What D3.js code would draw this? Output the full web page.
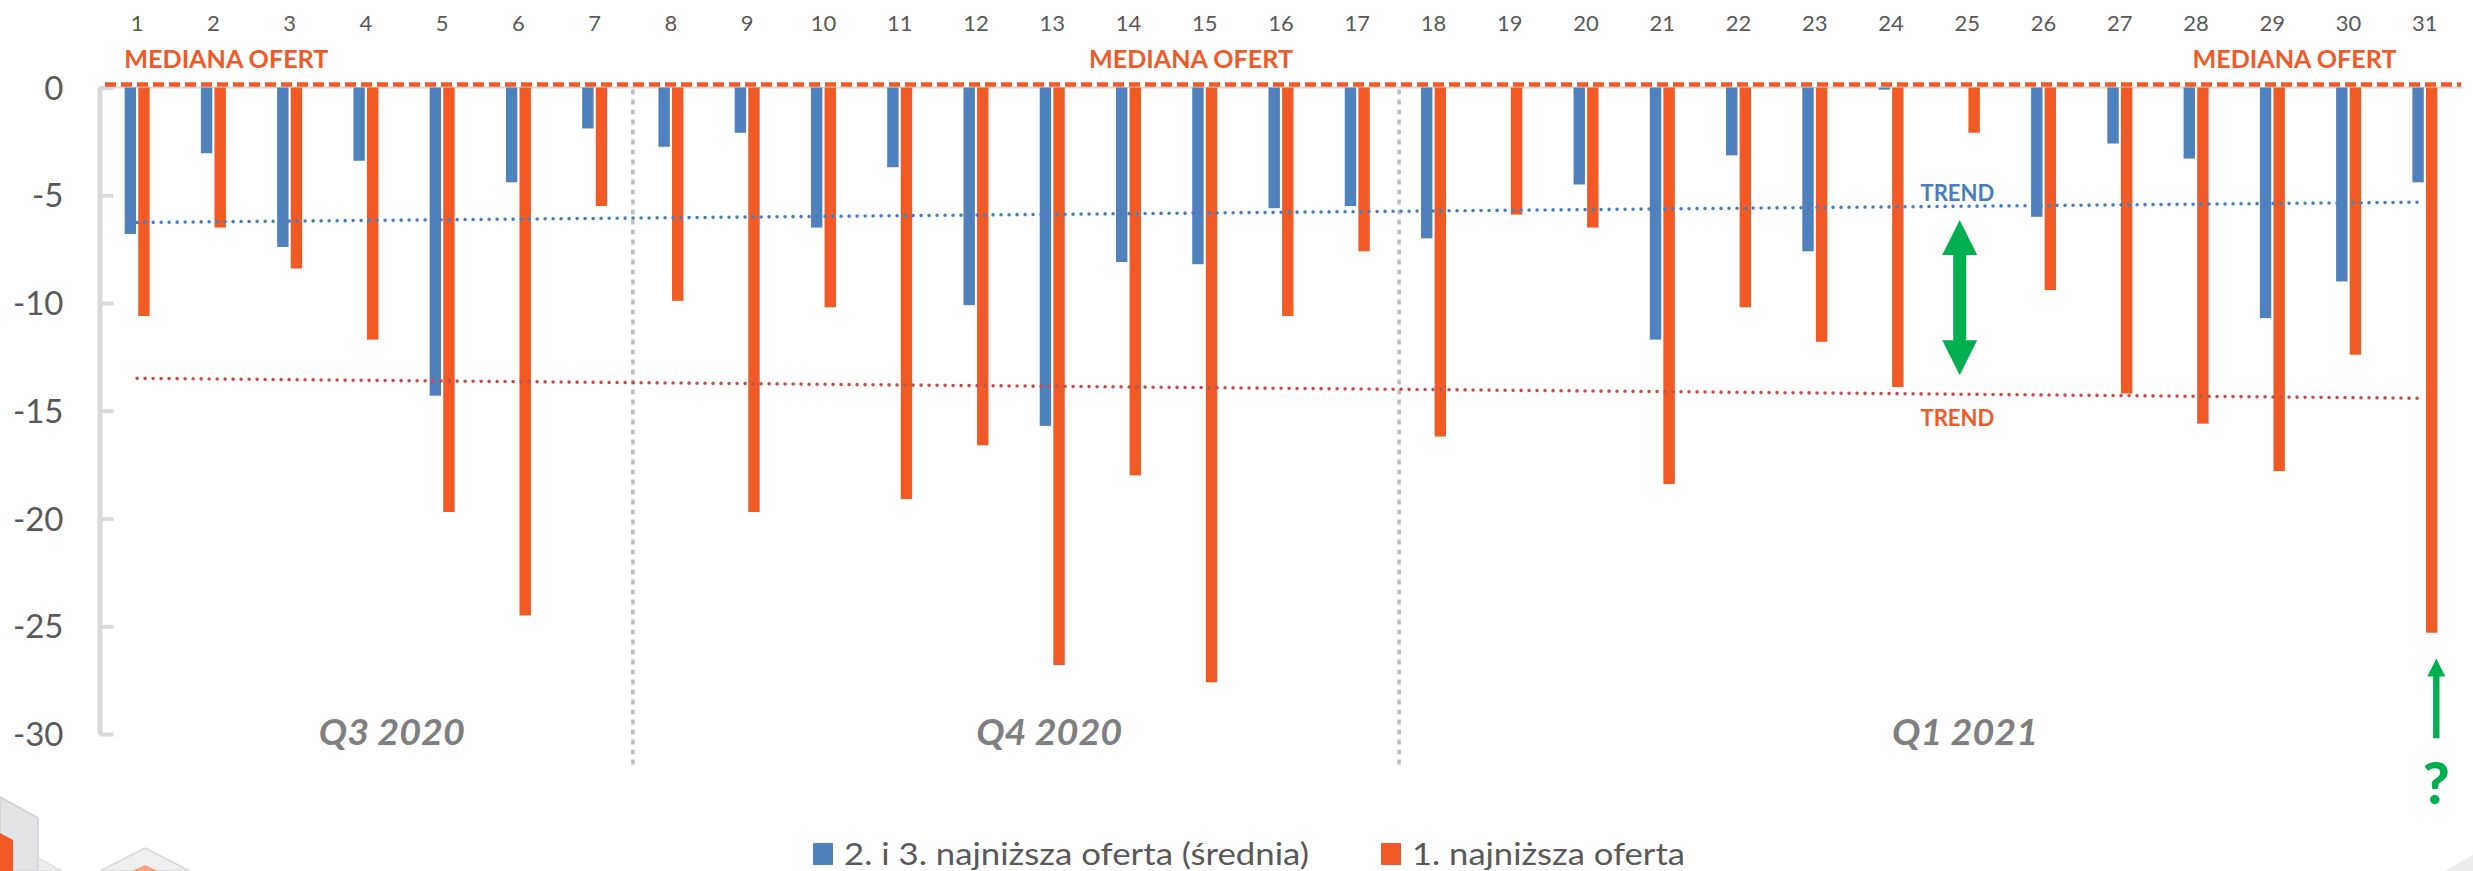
<!DOCTYPE html>
<html><head><meta charset="utf-8">
<script src="https://cdn.jsdelivr.net/npm/d3@7"></script>
<style>
body{margin:0;background:#fff}
svg{display:block}
text{font-family:Lato,'Open Sans',sans-serif}
</style>
</head><body>
<svg id="chart" width="2473" height="871"></svg>
<script>
// ---------- DATA ----------
const categories = [1,2,3,4,5,6,7,8,9,10,11,12,13,14,15,16,17,18,19,20,21,22,23,24,25,26,27,28,29,30,31];
const seriesNames = ["2. i 3. najniższa oferta (średnia)", "1. najniższa oferta"];
const blueValues = [-6.8,-3.05,-7.4,-3.4,-14.3,-4.4,-1.9,-2.75,-2.1,-6.5,-3.7,-10.1,-15.7,-8.1,-8.2,-5.6,-5.5,-7.0,0,-4.5,-11.7,-3.15,-7.6,-0.1,0,-6.0,-2.6,-3.3,-10.7,-9.0,-4.4];
const orangeValues = [-10.6,-6.5,-8.4,-11.7,-19.7,-24.5,-5.5,-9.9,-19.7,-10.2,-19.1,-16.6,-26.8,-18.0,-27.6,-10.6,-7.6,-16.2,-5.9,-6.5,-18.4,-10.2,-11.8,-13.9,-2.1,-9.4,-14.2,-15.6,-17.8,-12.4,-25.3];
const yTicks = [0,-5,-10,-15,-20,-25,-30];
const yTickLabels = ["0","-5","-10","-15","-20","-25","-30"];
const quarterLabels = ["Q3 2020","Q4 2020","Q1 2021"];
const quarterPos = [4.34, 12.96, 24.97];      // in category units
const separatorPos = [7.5, 17.55];            // in category units
const medianLabel = "MEDIANA OFERT";
const medianLabelPos = [2.17, 14.82, 29.29];  // in category units
const trendLabel = "TREND";

// ---------- SETUP ----------
const W = 2473, H = 871;
const svg = d3.select("#chart");
svg.append("rect").attr("width",W).attr("height",H).attr("fill","#fff");

const colors = ["#4f81bd", "#f15a24"];
const trendColors = ["#4a7dbd", "#c0504d"];

const x = d3.scaleBand().domain(categories).range([99, 2463]).paddingInner(0).paddingOuter(0);
const bw = x.bandwidth();
const xc = d3.scaleLinear().domain([1,31]).range([x(1)+bw/2, x(31)+bw/2]);
const xSub = d3.scaleBand().domain([0,1]).range([-12.5,12.5]).paddingInner(0.16);
const y = d3.scaleLinear().domain([-30,0]).range([734,87.5]);

// ---------- LOGO (decorative, bottom-left) ----------
const logo = svg.append("g");
logo.append("polygon").attr("points","0,797 38,818 38,871 0,871").attr("fill","#e4e4e6").attr("stroke","#cfcfd2").attr("stroke-width",1.5);
logo.append("polygon").attr("points","0,833 13,840 13,871 0,871").attr("fill","#f15a24");
logo.append("polygon").attr("points","38,858 62,871 38,871").attr("fill","#ededee").attr("stroke","#d5d5d7");
logo.append("polygon").attr("points","145,848 190,871 100,871").attr("fill","#efeff0").attr("stroke","#d8d8da").attr("stroke-width",1.5);
logo.append("polygon").attr("points","145,865 158,871 132,871").attr("fill","#f6a27e");
svg.append("polygon").attr("points","2473,855 2473,871 2445,871").attr("fill","#ececed");

// ---------- AXIS ----------
const axis = d3.axisLeft(y).tickValues(yTicks).tickSize(-14).tickSizeOuter(0).tickPadding(36)
  .tickFormat(d => yTickLabels[yTicks.indexOf(d)]);
const gAxis = svg.append("g").attr("transform","translate(99.5,0)").call(axis);
gAxis.select(".domain").attr("stroke","#d9d9d9").attr("stroke-width",5);
gAxis.selectAll(".tick line").attr("stroke","#d9d9d9").attr("stroke-width",4);
gAxis.selectAll(".tick text").attr("fill","#595959").attr("font-size",33).attr("font-family","Lato").attr("dy","0.35em");

// zero baseline
svg.append("line").attr("x1",99).attr("x2",2463).attr("y1",y(0)).attr("y2",y(0))
  .attr("stroke","#d9d9d9").attr("stroke-width",2);

// quarter separators
svg.selectAll("line.sep").data(separatorPos).join("line").attr("class","sep")
  .attr("x1",d=>xc(d)).attr("x2",d=>xc(d)).attr("y1",y(0)+2).attr("y2",767)
  .attr("stroke","#bfbfbf").attr("stroke-width",3.5).attr("stroke-dasharray","5 5");

// category labels on top
svg.selectAll("text.cat").data(categories).join("text").attr("class","cat")
  .attr("x",d=>x(d)+bw/2).attr("y",31).attr("text-anchor","middle")
  .attr("font-size",22).attr("fill","#595959").text(d=>d);

// ---------- BARS ----------
const seriesData = [blueValues, orangeValues];
seriesData.forEach((vals, si) => {
  svg.append("g").selectAll("rect").data(vals.map((v,i)=>({c:categories[i], v})))
    .join("rect")
    .attr("x", d => x(d.c) + bw/2 + xSub(si))
    .attr("width", xSub.bandwidth())
    .attr("y", d => y(Math.max(0,d.v)))
    .attr("height", d => Math.abs(y(d.v) - y(0)))
    .attr("fill", colors[si]);
});

// ---------- TRENDS (linear regression of each series) ----------
function regression(vals){
  const xs = categories;
  const mx = d3.mean(xs), my = d3.mean(vals);
  let sxy=0, sxx=0;
  xs.forEach((xx,i)=>{ sxy += (xx-mx)*(vals[i]-my); sxx += (xx-mx)*(xx-mx); });
  const b = sxy/sxx, a = my - b*mx;
  return xx => a + b*xx;
}
seriesData.forEach((vals, si) => {
  const f = regression(vals);
  const pts = [categories[0], categories[categories.length-1]].map(c => [xc(c), y(f(c))]);
  svg.append("path").attr("d", d3.line()(pts)).attr("fill","none")
    .attr("stroke", trendColors[si]).attr("stroke-width",3.6)
    .attr("stroke-linecap","round").attr("stroke-dasharray","0 8");
});

// ---------- MEDIAN LINE ----------
svg.append("line").attr("x1",105).attr("x2",2461).attr("y1",y(0)-3).attr("y2",y(0)-3)
  .attr("stroke","#f05a28").attr("stroke-width",4.5).attr("stroke-dasharray","11 5");
svg.selectAll("text.med").data(medianLabelPos).join("text").attr("class","med")
  .attr("x",d=>xc(d)).attr("y",68).attr("text-anchor","middle")
  .attr("font-size",25).attr("font-weight",700).attr("fill","#f05a28")
  .attr("textLength",204).attr("lengthAdjust","spacingAndGlyphs").text(medianLabel);

// ---------- QUARTER LABELS ----------
svg.selectAll("text.q").data(quarterLabels).join("text").attr("class","q")
  .attr("x",(d,i)=>xc(quarterPos[i])).attr("y",745).attr("text-anchor","middle")
  .attr("font-size",37).attr("font-weight",700).attr("font-style","italic").attr("fill","#7f7f7f")
  .attr("textLength",146).attr("lengthAdjust","spacingAndGlyphs").text(d=>d);

// ---------- TREND LABELS & ARROWS ----------
svg.append("text").attr("x",xc(24.87)).attr("y",y(-4.9)).attr("dy","0.36em").attr("text-anchor","middle")
  .attr("font-size",22).attr("font-weight",700).attr("fill","#4a7dbd")
  .attr("textLength",74).attr("lengthAdjust","spacingAndGlyphs").text(trendLabel);
svg.append("text").attr("x",xc(24.87)).attr("y",y(-15.35)).attr("dy","0.36em").attr("text-anchor","middle")
  .attr("font-size",22).attr("font-weight",700).attr("fill","#f05a28")
  .attr("textLength",74).attr("lengthAdjust","spacingAndGlyphs").text(trendLabel);

// double arrow
(function(){
  const cx = xc(24.9), top = y(-6.15), bot = y(-13.35);
  const hw = 17.5, hh = 35, sw = 6.5;
  const p = [[cx,top],[cx+hw,top+hh],[cx+sw,top+hh],[cx+sw,bot-hh],[cx+hw,bot-hh],[cx,bot],
             [cx-hw,bot-hh],[cx-sw,bot-hh],[cx-sw,top+hh],[cx-hw,top+hh]];
  svg.append("polygon").attr("points",p.map(d=>d.join(",")).join(" ")).attr("fill","#00b050");
})();

// single up arrow + question mark
(function(){
  const cx = xc(31.15), top = y(-26.5), bot = y(-30.2);
  const hw = 9, hh = 18, sw = 3.2;
  const p = [[cx,top],[cx+hw,top+hh],[cx+sw,top+hh],[cx+sw,bot],[cx-sw,bot],[cx-sw,top+hh],[cx-hw,top+hh]];
  svg.append("polygon").attr("points",p.map(d=>d.join(",")).join(" ")).attr("fill","#00b050");
  svg.append("text").attr("x",cx).attr("y",804).attr("text-anchor","middle")
    .attr("font-size",58).attr("font-weight",900).attr("fill","#00b050").text("?");
})();

// ---------- LEGEND ----------
const legendX = [813, 1381];
const legendLen = [465, 273];
const lg = svg.append("g");
seriesNames.forEach((s,i)=>{
  lg.append("rect").attr("x",legendX[i]).attr("y",843).attr("width",20).attr("height",22).attr("fill",colors[i]);
  lg.append("text").attr("x",legendX[i]+31).attr("y",865).attr("font-size",30).attr("fill","#595959")
    .attr("textLength",legendLen[i]).attr("lengthAdjust","spacingAndGlyphs").text(s);
});
</script>
</body></html>
